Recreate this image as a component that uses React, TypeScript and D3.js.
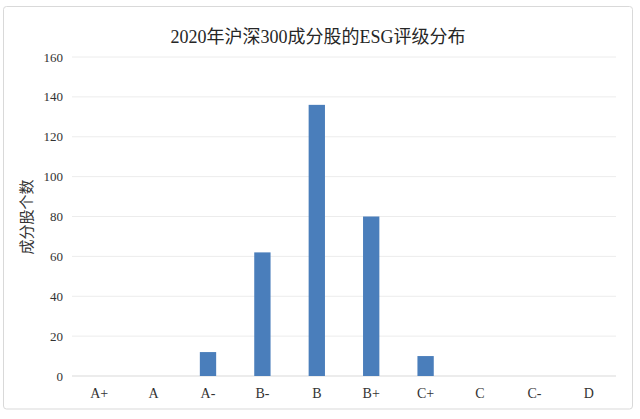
import React from "react";
import * as d3 from "d3";

const categories = ["A+", "A", "A-", "B-", "B", "B+", "C+", "C", "C-", "D"];
const counts = [0, 0, 12, 62, 136, 80, 10, 0, 0, 0];
const yTicks = [0, 20, 40, 60, 80, 100, 120, 140, 160];
const title = "2020年沪深300成分股的ESG评级分布";
const yLabel = "成分股个数";

const W = 640;
const H = 419;
const margin = { left: 72, right: 24, top: 57, bottom: 43 };
const FONT = "'Liberation Serif', 'Times New Roman', 'Noto Sans CJK SC', serif";

export default function App() {
  const x = d3
    .scaleBand<string>()
    .domain(categories)
    .range([margin.left, W - margin.right])
    .paddingInner(0.7)
    .paddingOuter(0.35);
  const y = d3
    .scaleLinear()
    .domain([0, 160])
    .range([H - margin.bottom, margin.top]);

  return (
    <svg
      width={W}
      height={H}
      style={{ position: "absolute", left: 0, top: 0, background: "#fff" }}
    >
      <rect x={3.5} y={6.5} width={629} height={402.5} rx={3} fill="#fff" stroke="#d9d9d9" strokeWidth={1} />
      <text x={318} y={43} textAnchor="middle" fontFamily={FONT} fontSize={18} fill="#262626">
        {title}
      </text>
      {yTicks.map((t) => (
        <g key={t}>
          <line
            x1={margin.left}
            x2={W - margin.right}
            y1={y(t)}
            y2={y(t)}
            stroke={t === 0 ? "#d9d9d9" : "#ececec"}
            strokeWidth={1}
          />
          <text
            x={63}
            y={y(t)}
            dy="0.35em"
            textAnchor="end"
            fontFamily={FONT}
            fontSize={13}
            fill="#333"
          >
            {t}
          </text>
        </g>
      ))}
      {categories.map((c, i) => (
        <g key={c}>
          {counts[i] > 0 && (
            <rect
              x={x(c)!}
              y={y(counts[i])}
              width={x.bandwidth()}
              height={y(0) - y(counts[i])}
              fill="#4a7ebb"
            />
          )}
          <text
            x={x(c)! + x.bandwidth() / 2}
            y={398}
            textAnchor="middle"
            fontFamily={FONT}
            fontSize={14}
            fill="#333"
          >
            {c}
          </text>
        </g>
      ))}
      <text
        transform={`translate(32, 217) rotate(-90)`}
        textAnchor="middle"
        fontFamily={FONT}
        fontSize={15}
        fill="#333"
      >
        {yLabel}
      </text>
    </svg>
  );
}
